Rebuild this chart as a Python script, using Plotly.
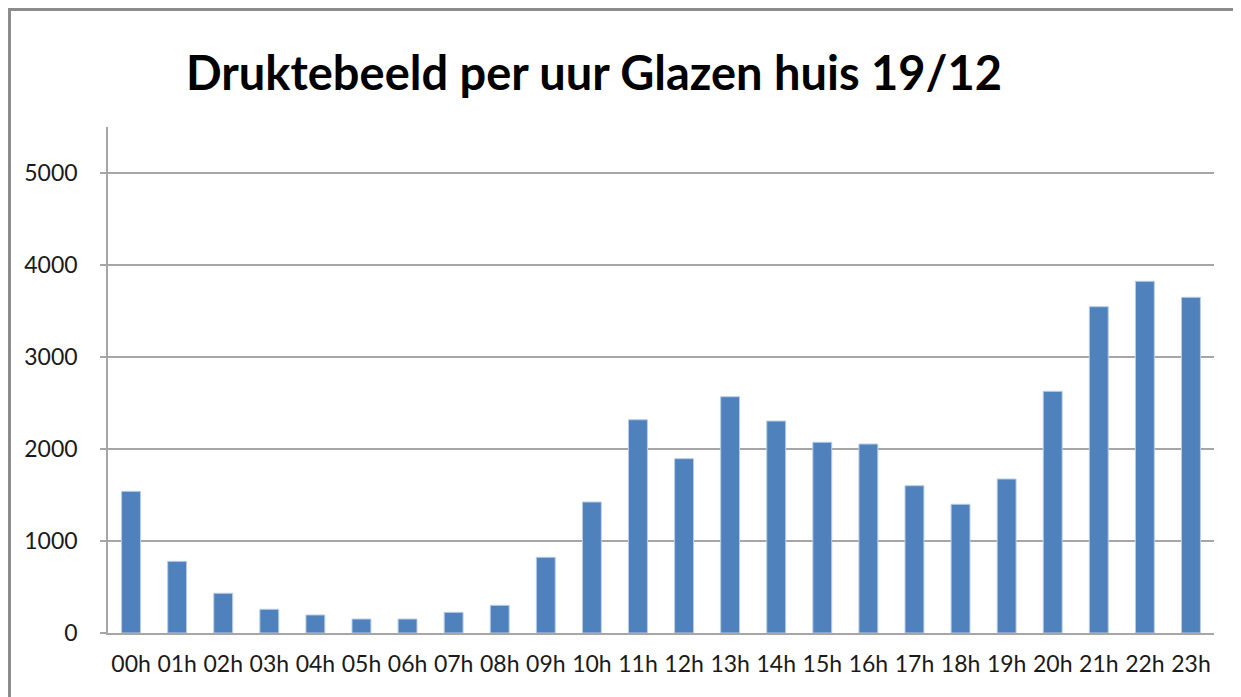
import plotly.graph_objects as go

hours = ["00h", "01h", "02h", "03h", "04h", "05h", "06h", "07h", "08h", "09h", "10h", "11h",
         "12h", "13h", "14h", "15h", "16h", "17h", "18h", "19h", "20h", "21h", "22h", "23h"]
visitors = [1540, 779, 432, 258, 196, 152, 152, 225, 301, 823, 1424, 2318,
            1895, 2568, 2304, 2073, 2054, 1601, 1399, 1674, 2627, 3547, 3823, 3649]
y_ticks = [0, 1000, 2000, 3000, 4000, 5000]
title_text = "Druktebeeld per uur Glazen huis 19/12"

OFF = 8  # page body margin offset
W, H = 1241 - OFF, 697 - OFF
L, R, T, B = 108 - OFF, 27, 127 - OFF, 64
pw = W - L - R
ph = H - T - B

fig = go.Figure(go.Bar(
    x=hours, y=visitors,
    marker=dict(color="#4F81BD", line=dict(color="#B9CDE5", width=1)),
    hoverinfo="x+y",
))

fig.update_layout(
    width=W, height=H,
    margin=dict(l=L, r=R, t=T, b=B),
    paper_bgcolor="white", plot_bgcolor="white",
    bargap=0.59,
    showlegend=False,
    title=dict(text=title_text, x=(594 - OFF) / W, xanchor="center", xref="container",
               y=1 - (74 - OFF) / H, yanchor="middle", yref="container",
               font=dict(family="Lato", size=47, color="black", weight="bold")),
    font=dict(family="Lato", color="#1a1a1a"),
    xaxis=dict(
        showgrid=False, showline=True, linecolor="#a6a6a6", linewidth=1.5,
        ticks="", tickfont=dict(size=23, color="#1a1a1a"), ticklabelstandoff=10,
        fixedrange=True,
    ),
    yaxis=dict(
        range=[0, ph / 0.092], tickvals=y_ticks,
        showgrid=True, gridcolor="#a6a6a6", gridwidth=1.5,
        showline=True, linecolor="#a6a6a6", linewidth=1.5,
        ticks="outside", ticklen=6, tickcolor="#a6a6a6", tickwidth=1.5,
        tickfont=dict(size=23, color="#1a1a1a"), ticklabelstandoff=18,
        zeroline=False, fixedrange=True,
    ),
    shapes=[dict(
        type="rect", xref="paper", yref="paper",
        x0=(9.5 - 108) / pw, x1=(1241 + 20 - 108) / pw,
        y0=(633 - (697 + 20)) / ph, y1=(633 - 9.5) / ph,
        line=dict(color="#8c8c8c", width=3), fillcolor="rgba(0,0,0,0)", layer="above",
    )],
)

fig.write_html("out.html")
